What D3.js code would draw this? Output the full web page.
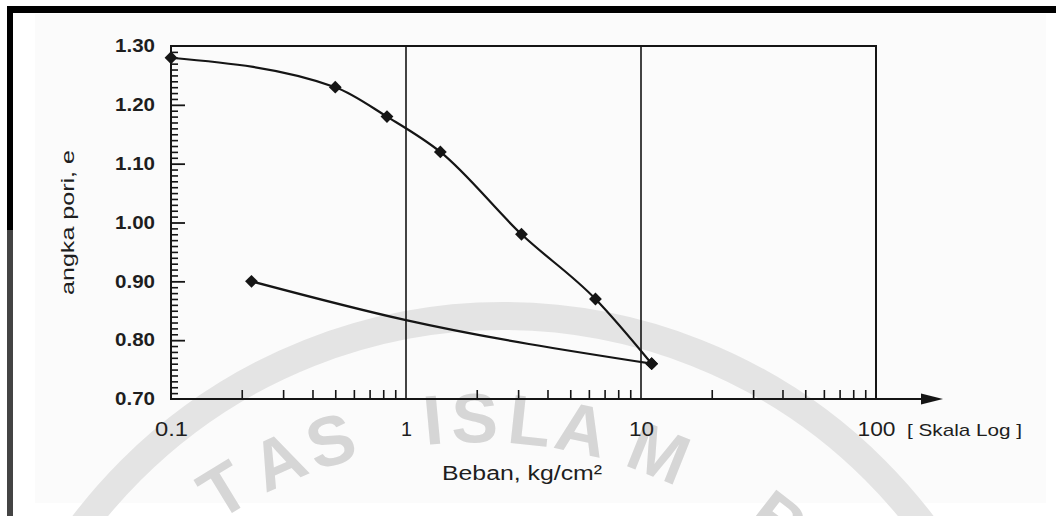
<!DOCTYPE html>
<html>
<head>
<meta charset="utf-8">
<script src="https://cdn.jsdelivr.net/npm/d3@7"></script>
<style>
  body { margin: 0; background: #fff; }
  text { font-family: "Liberation Sans", Arial, sans-serif; fill: #1e1e1e; }
</style>
</head>
<body>
<div id="chart"></div>
<script>
// loading curve (void ratio vs load, log scale)
const loadX = [0.1, 0.5, 0.83, 1.4, 3.1, 6.4, 11.1];
const loadE = [1.28, 1.23, 1.18, 1.12, 0.98, 0.87, 0.76];
// rebound line: markers only at both ends, bend read where it crosses 1
const unloadX = [0.22, 1, 11.1];
const unloadE = [0.90, 0.834, 0.76];
const unloadMarked = [true, false, true];

const yTicks = [1.30, 1.20, 1.10, 1.00, 0.90, 0.80, 0.70];
const xTicks = [0.1, 1, 10, 100];
const xTickLabels = ["0.1", "1", "10", "100"];

// scan watermark letters and their angle on the arc
const wmLetters = ["T", "A", "S", "I", "S", "L", "A", "M", "B"];
const wmAngles = [-31.5, -24.2, -17.6, -5.3, -0.4, 6.1, 12.3, 21.8, 38];

const W = 1056, H = 516;
const svg = d3.select("#chart").append("svg")
  .attr("width", W).attr("height", H);

// scanned page background
svg.append("rect").attr("x", 35).attr("y", 14).attr("width", 1011).attr("height", 489)
  .attr("fill", "#fbfbfb");

// watermark
const wm = svg.append("g");
wm.append("circle").attr("cx", 503).attr("cy", 842).attr("r", 526)
  .attr("fill", "none").attr("stroke", "#e4e4e4").attr("stroke-width", 28);
const wmR = 488, wmCx = 478, wmCy = 905;
wm.selectAll("text").data(wmLetters).enter().append("text")
  .attr("transform", (d, i) => {
    const a = wmAngles[i] * Math.PI / 180;
    return `translate(${wmCx + wmR * Math.sin(a)},${wmCy - wmR * Math.cos(a)}) rotate(${wmAngles[i]})`;
  })
  .attr("text-anchor", "middle")
  .attr("dy", "0.36em")
  .style("font-size", "70px")
  .style("font-weight", "bold")
  .style("fill", "#d6d6d6")
  .text(d => d);

// page frame (scan edges)
svg.append("rect").attr("x", 7).attr("y", 6).attr("width", W - 7).attr("height", 7).attr("fill", "#000");
svg.append("rect").attr("x", 7).attr("y", 6).attr("width", 6).attr("height", 224).attr("fill", "#000");
svg.append("rect").attr("x", 7).attr("y", 230).attr("width", 6).attr("height", H - 230).attr("fill", "#444");

const x = d3.scaleLog().domain([0.1, 100]).range([171, 876]);
const y = d3.scaleLinear().domain([0.70, 1.30]).range([399, 46]);
const ink = "#151515";

const g = svg.append("g");

// plot box and decade lines
g.append("rect")
  .attr("x", x(0.1)).attr("y", y(1.30))
  .attr("width", x(100) - x(0.1)).attr("height", y(0.70) - y(1.30))
  .attr("fill", "none").attr("stroke", ink).attr("stroke-width", 2);
g.selectAll(".grid").data([1, 10]).enter().append("line")
  .attr("class", "grid")
  .attr("x1", d => x(d)).attr("x2", d => x(d))
  .attr("y1", y(1.30)).attr("y2", y(0.70))
  .attr("stroke", ink).attr("stroke-width", 1.6);

// y axis ticks (inside) and labels
const yMinor = d3.range(71, 130).filter(v => v % 10 !== 0).map(v => v / 100);
g.append("g").attr("transform", `translate(${x(0.1)},0)`)
  .call(d3.axisRight(y).tickValues(yMinor).tickSize(7).tickFormat(""))
  .call(a => a.select(".domain").remove())
  .selectAll("line").attr("stroke", ink).attr("stroke-width", 1.6);
g.append("g").attr("transform", `translate(${x(0.1)},0)`)
  .call(d3.axisRight(y).tickValues([1.20, 1.10, 1.00, 0.90, 0.80]).tickSize(14).tickFormat(""))
  .call(a => a.select(".domain").remove())
  .selectAll("line").attr("stroke", ink).attr("stroke-width", 1.8);
const yAx = g.append("g").attr("transform", `translate(${x(0.1)},0)`)
  .call(d3.axisLeft(y).tickValues(yTicks).tickSize(0).tickPadding(16).tickFormat(d3.format(".2f")));
yAx.select(".domain").remove();
yAx.selectAll("text")
  .style("font-size", "18px").style("font-weight", "bold").style("fill", "#1e1e1e")
  .attr("textLength", 40).attr("lengthAdjust", "spacingAndGlyphs");

// x axis: minor log ticks pointing up, long baseline with arrow
const xMinor = [];
[0.1, 1, 10].forEach(dec => { for (let k = 2; k <= 9; k++) xMinor.push(dec * k); });
g.append("g").attr("transform", `translate(0,${y(0.70)})`)
  .call(d3.axisTop(x).tickValues(xMinor).tickSize(9).tickFormat(""))
  .call(a => a.select(".domain").remove())
  .selectAll("line").attr("stroke", ink).attr("stroke-width", 1.6);
g.append("line")
  .attr("x1", x(0.1)).attr("x2", 924)
  .attr("y1", y(0.70)).attr("y2", y(0.70))
  .attr("stroke", ink).attr("stroke-width", 2);
g.append("path")
  .attr("d", `M921,${y(0.70) - 5.5}L943,${y(0.70)}L921,${y(0.70) + 5.5}Z`)
  .attr("fill", ink);

const xAx = g.append("g").attr("transform", `translate(0,${y(0.70)})`)
  .call(d3.axisBottom(x).tickValues(xTicks).tickSize(0).tickPadding(22)
    .tickFormat((d, i) => xTickLabels[i]));
xAx.select(".domain").remove();
xAx.selectAll("text")
  .style("font-size", "21px").style("fill", "#1e1e1e")
  .attr("textLength", (d, i) => [33, 11, 25, 38][i])
  .attr("lengthAdjust", "spacingAndGlyphs");

// axis titles
g.append("text")
  .attr("x", 907).attr("y", 436)
  .style("font-size", "17px")
  .attr("textLength", 115).attr("lengthAdjust", "spacingAndGlyphs")
  .text("[ Skala Log ]");
g.append("text")
  .attr("x", 442).attr("y", 480)
  .style("font-size", "20px")
  .attr("textLength", 160).attr("lengthAdjust", "spacingAndGlyphs")
  .text("Beban, kg/cm²");
g.append("text")
  .attr("transform", "translate(74,295) rotate(-90)")
  .style("font-size", "18px")
  .attr("textLength", 145).attr("lengthAdjust", "spacingAndGlyphs")
  .text("angka pori, e");

// curves
const loadPts = loadX.map((v, i) => [v, loadE[i]]);
const unloadPts = unloadX.map((v, i) => [v, unloadE[i]]);
const line = d3.line()
  .x(d => x(d[0])).y(d => y(d[1]))
  .curve(d3.curveMonotoneX);

g.append("path").datum(loadPts)
  .attr("fill", "none").attr("stroke", ink).attr("stroke-width", 2.2)
  .attr("d", line);
g.append("path").datum(unloadPts)
  .attr("fill", "none").attr("stroke", ink).attr("stroke-width", 2.2)
  .attr("d", line);

const diamond = d3.symbol().type(d3.symbolSquare).size(82);
const markers = loadPts.concat(unloadPts.filter((d, i) => unloadMarked[i]));
g.selectAll(".pt").data(markers).enter().append("path")
  .attr("class", "pt")
  .attr("transform", d => `translate(${x(d[0])},${y(d[1])}) rotate(45)`)
  .attr("d", diamond)
  .attr("fill", ink);
</script>
</body>
</html>
